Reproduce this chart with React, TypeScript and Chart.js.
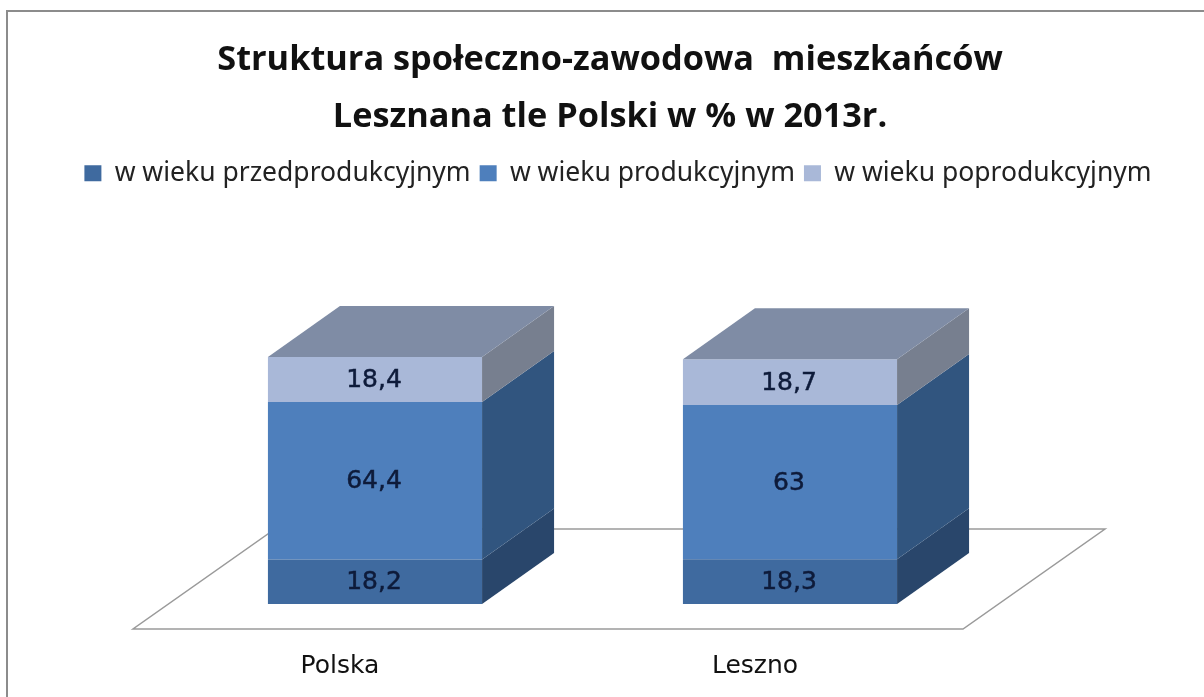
import React, { useEffect, useRef } from "react";
import { Chart, registerables } from "chart.js";

Chart.register(...registerables);

const categories = ["Polska", "Leszno"];
const seriesNames = ["w wieku przedprodukcyjnym", "w wieku produkcyjnym", "w wieku poprodukcyjnym"];
const przedprodukcyjny = [18.2, 18.3];
const produkcyjny = [64.4, 63];
const poprodukcyjny = [18.4, 18.7];
const titleLines = ["Struktura społeczno-zawodowa  mieszkańców", "Lesznana tle Polski w % w 2013r."];

const FRONT = ["#3F6A9F", "#4E7FBC", "#A9B8D8"];
const SIDE = ["#29466B", "#31557F", "#777F8F"];
const TOP = "#7F8CA5";
const DX = 72;
const DY = -51;

const fmt = (v: number) => String(v).replace(".", ",");

const face = (ctx: CanvasRenderingContext2D, pts: number[][], fill: string) => {
  ctx.beginPath();
  pts.forEach(([x, y], i) => (i ? ctx.lineTo(x, y) : ctx.moveTo(x, y)));
  ctx.closePath();
  ctx.fillStyle = fill;
  ctx.fill();
};

const frame = {
  id: "frame",
  afterLayout(chart: any) {
    chart.legend.left += 8;
    chart.legend.right += 8;
  },
  beforeDraw(chart: any) {
    const { ctx } = chart;
    ctx.save();
    ctx.strokeStyle = "#8c8c8c";
    ctx.lineWidth = 2;
    ctx.beginPath();
    ctx.moveTo(7, 697);
    ctx.lineTo(7, 11);
    ctx.lineTo(1204, 11);
    ctx.stroke();
    ctx.restore();
  },
};

const floor = {
  id: "floor",
  beforeDatasetsDraw(chart: any) {
    const { ctx, chartArea } = chart;
    const left = chartArea.left - 34.5;
    const right = chartArea.right - 34.5;
    const y = chartArea.bottom + 25;
    ctx.save();
    ctx.strokeStyle = "#9a9a9a";
    ctx.lineWidth = 1.5;
    ctx.fillStyle = "#ffffff";
    ctx.beginPath();
    ctx.moveTo(left, y);
    ctx.lineTo(right, y);
    ctx.lineTo(right + 142, y - 100);
    ctx.lineTo(left + 142, y - 100);
    ctx.closePath();
    ctx.fill();
    ctx.stroke();
    ctx.restore();
  },
};

const bars3d = {
  id: "bars3d",
  afterDatasetsDraw(chart: any) {
    const { ctx } = chart;
    ctx.save();
    chart.data.datasets.forEach((ds: any, d: number) => {
      chart.getDatasetMeta(d).data.forEach((bar: any, i: number) => {
        const half = bar.width / 2;
        const r = bar.x + half;
        const l = bar.x - half;
        face(ctx, [[r, bar.y], [r + DX, bar.y + DY], [r + DX, bar.base + DY], [r, bar.base]], SIDE[d]);
        if (d === chart.data.datasets.length - 1) {
          face(ctx, [[l, bar.y], [l + DX, bar.y + DY], [r + DX, bar.y + DY], [r, bar.y]], TOP);
        }
        const text = fmt(ds.data[i]);
        const ty = (bar.y + bar.base) / 2 + 1;
        ctx.fillStyle = "#0E1B3A";
        ctx.strokeStyle = "#0E1B3A";
        ctx.lineWidth = 0.5;
        ctx.font = '25px "DejaVu Sans"';
        ctx.textAlign = "center";
        ctx.textBaseline = "middle";
        ctx.fillText(text, bar.x - 1, ty);
        ctx.strokeText(text, bar.x - 1, ty);
      });
    });
    ctx.restore();
  },
};

const hiddenAxis = (width: number, position: string) => ({
  position,
  display: true,
  stacked: true,
  min: 0,
  max: 166.6,
  grid: { display: false, drawTicks: false },
  border: { display: false },
  ticks: { display: false },
  afterFit(scale: any) {
    scale.width = width;
  },
});

export default function App() {
  const ref = useRef<HTMLCanvasElement>(null);
  useEffect(() => {
    const chart = new Chart(ref.current!, {
      type: "bar",
      data: {
        labels: categories,
        datasets: [przedprodukcyjny, produkcyjny, poprodukcyjny].map((data, i) => ({
          label: seriesNames[i],
          data,
          backgroundColor: FRONT[i],
          borderWidth: 0,
          categoryPercentage: 0.516,
          barPercentage: 1,
        })),
      },
      options: {
        animation: false,
        responsive: false,
        layout: { padding: { left: 0, right: 0, top: 0, bottom: 20 } },
        plugins: {
          title: {
            display: true,
            text: titleLines,
            color: "#111111",
            font: { family: '"Open Sans"', size: 34.3, weight: "bold", lineHeight: 1.66 },
            padding: { top: 32, bottom: 5 },
          },
          legend: {
            display: true,
            position: "top",
            labels: {
              color: "#222222",
              font: { family: '"Noto Sans"', size: 26.5 },
              boxWidth: 17,
              boxHeight: 16,
              padding: 9,
            },
          },
          tooltip: { enabled: false },
        },
        scales: {
          x: {
            stacked: true,
            grid: { display: false, drawTicks: false },
            border: { display: false },
            ticks: {
              color: "#111111",
              font: { family: '"DejaVu Sans"', size: 25 },
              padding: 47,
              labelOffset: -35,
              maxRotation: 0,
              autoSkip: false,
            },
            afterFit(scale: any) {
              scale.height = 73;
            },
          },
          y: hiddenAxis(167.5, "left"),
          y2: hiddenAxis(222.5, "right"),
        },
      },
      plugins: [frame, floor, bars3d],
    } as any);
    return () => chart.destroy();
  }, []);
  return (
    <div style={{ position: "fixed", left: 0, top: 0, width: 1204, height: 697, overflow: "hidden", background: "#fff" }}>
      <canvas ref={ref} width={1220} height={697} style={{ display: "block" }} />
    </div>
  );
}
